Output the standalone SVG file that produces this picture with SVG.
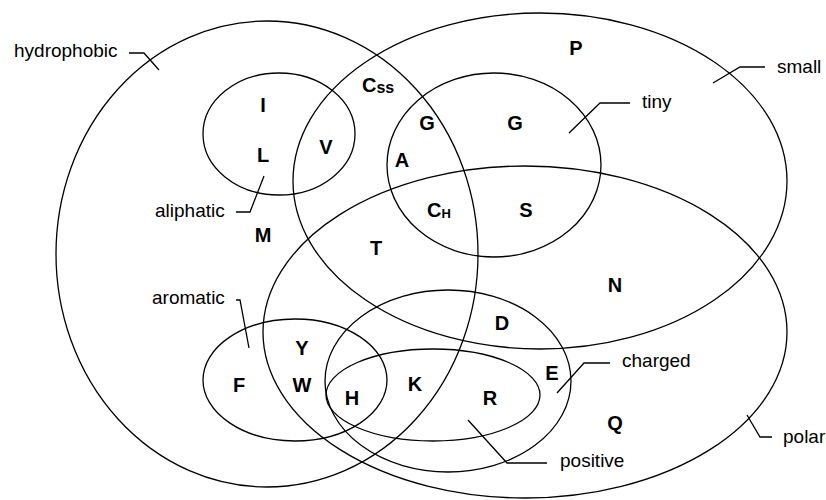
<svg xmlns="http://www.w3.org/2000/svg" width="826" height="500" viewBox="0 0 826 500">
<style>
.set{fill:none;stroke:#000;stroke-width:1.3}
.lead{fill:none;stroke:#000;stroke-width:1.3}
.aa{font-family:"Liberation Sans",Arial,sans-serif;font-weight:bold;font-size:20px;fill:#000;text-anchor:middle}
.cat{font-family:"Liberation Sans",Arial,sans-serif;font-size:19px;fill:#000}
</style>
<rect width="826" height="500" fill="#fff"/>
<g id="hydrophobic"><ellipse class="set" cx="267" cy="254" rx="211" ry="233"/><text class="cat" x="14" y="57">hydrophobic</text></g>
<g id="small"><ellipse class="set" cx="540" cy="181" rx="247" ry="168"/><text class="cat" x="777" y="73">small</text></g>
<g id="polar"><ellipse class="set" cx="525" cy="332" rx="262" ry="166"/><text class="cat" x="783" y="443">polar</text></g>
<g id="tiny"><ellipse class="set" cx="494" cy="165" rx="107" ry="92"/><text class="cat" x="642" y="108">tiny</text></g>
<g id="aliphatic"><ellipse class="set" cx="279" cy="134" rx="76" ry="61"/><text class="cat" x="155" y="217">aliphatic</text></g>
<g id="aromatic"><ellipse class="set" cx="295" cy="380" rx="92" ry="61"/><text class="cat" x="152" y="304">aromatic</text></g>
<g id="charged"><ellipse class="set" cx="448" cy="381" rx="123" ry="91"/><text class="cat" x="622" y="367">charged</text></g>
<g id="positive"><ellipse class="set" cx="433" cy="395" rx="107" ry="46"/><text class="cat" x="560" y="467">positive</text></g>
<g id="connectors">
<path class="lead" d="M129,53 H144 L159,70"/>
<path class="lead" d="M765,67 H740 L713,83"/>
<path class="lead" d="M630,103 H600 L569,133"/>
<path class="lead" d="M236,212 H250 L264,176"/>
<path class="lead" d="M236,300 H240 L249,348"/>
<path class="lead" d="M610,363 H584 L557,393"/>
<path class="lead" d="M547,463 H507 L468,420"/>
<path class="lead" d="M772,437 H760 L747,415"/>
</g>
<g id="residues">
<text class="aa" x="576" y="55">P</text>
<text class="aa" x="362" y="92" style="text-anchor:start">C<tspan font-size="16" dy="1">ss</tspan></text>
<text class="aa" x="263" y="112">I</text>
<text class="aa" x="427" y="130">G</text>
<text class="aa" x="515" y="130">G</text>
<text class="aa" x="326" y="154">V</text>
<text class="aa" x="263" y="162">L</text>
<text class="aa" x="402" y="167">A</text>
<text class="aa" x="427" y="217" style="text-anchor:start">C<tspan font-size="13" dy="1">H</tspan></text>
<text class="aa" x="526" y="217">S</text>
<text class="aa" x="263" y="242">M</text>
<text class="aa" x="376" y="255">T</text>
<text class="aa" x="615" y="292">N</text>
<text class="aa" x="502" y="330">D</text>
<text class="aa" x="302" y="355">Y</text>
<text class="aa" x="552" y="380">E</text>
<text class="aa" x="239" y="392">F</text>
<text class="aa" x="302" y="392">W</text>
<text class="aa" x="415" y="391">K</text>
<text class="aa" x="352" y="405">H</text>
<text class="aa" x="490" y="405">R</text>
<text class="aa" x="615" y="430">Q</text>
</g>
</svg>
